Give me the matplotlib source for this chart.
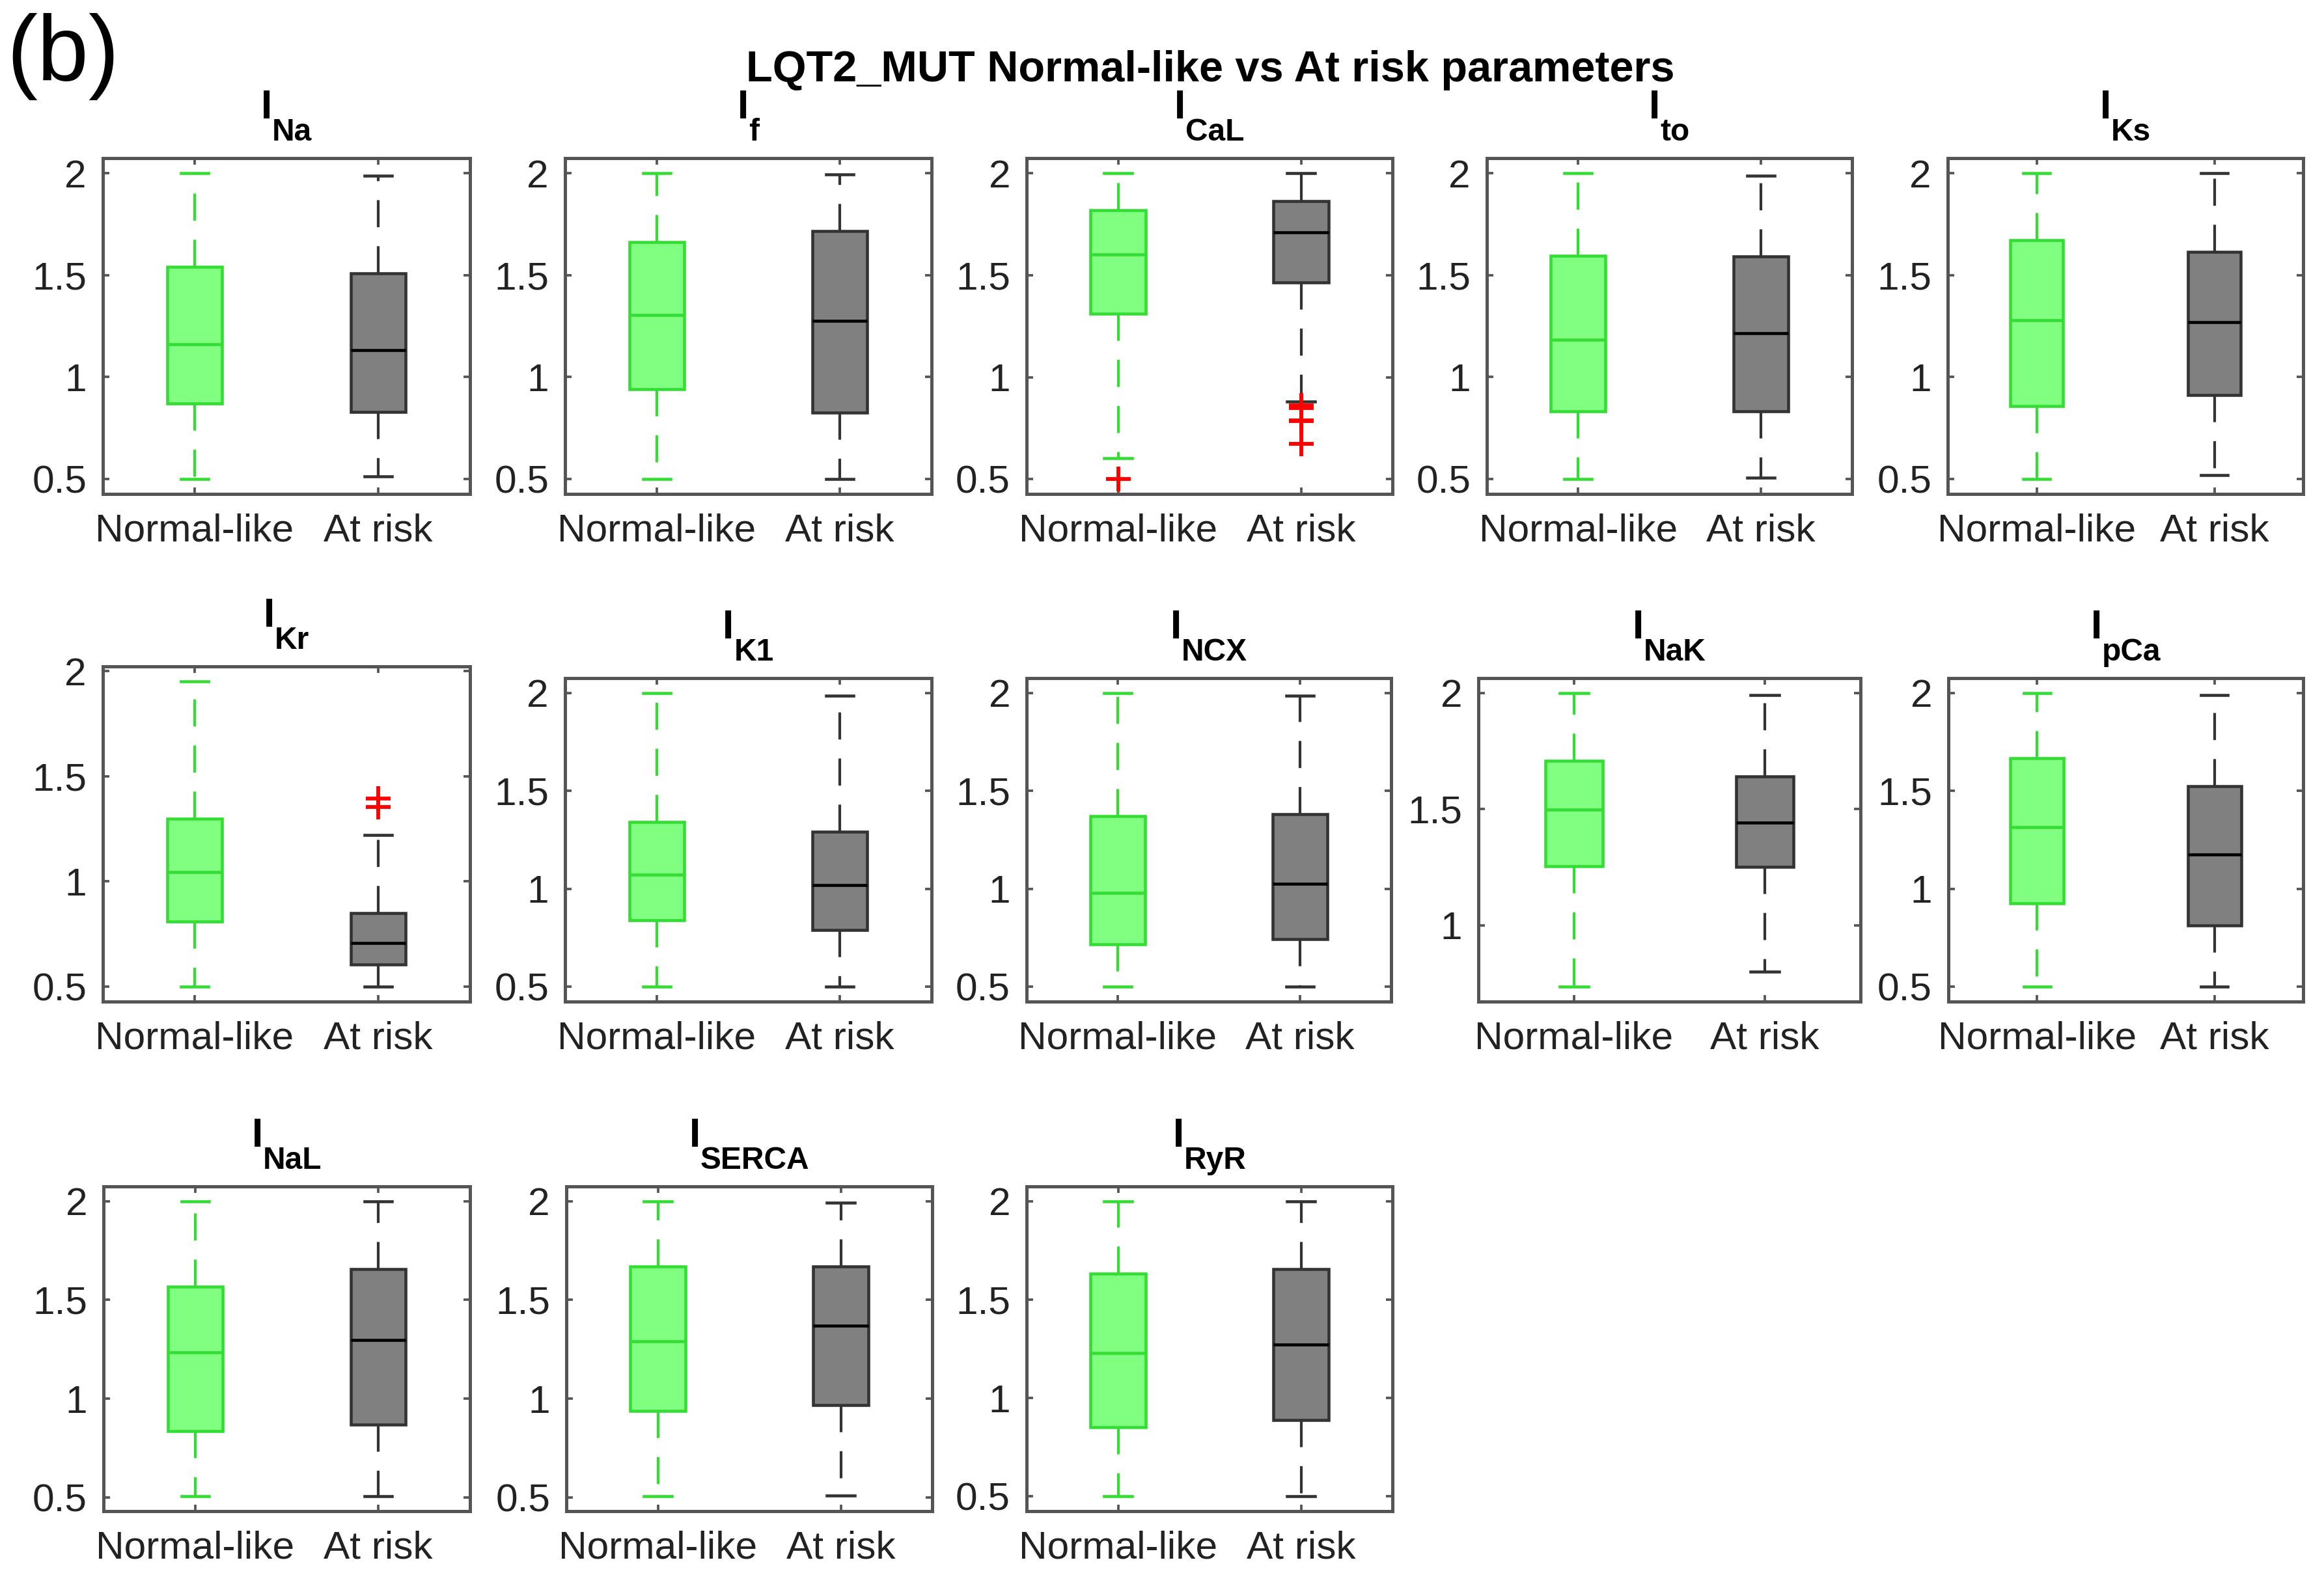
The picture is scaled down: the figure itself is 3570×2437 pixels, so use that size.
import matplotlib
matplotlib.use('Agg')
import matplotlib.pyplot as plt
from matplotlib.transforms import offset_copy

plt.rcParams['font.family'] = ['Liberation Sans', 'DejaVu Sans']

# subscripts of the current names, panel order left->right, top->bottom
currents = ['Na', 'f', 'CaL', 'to', 'Ks', 'Kr', 'K1', 'NCX', 'NaK', 'pCa', 'NaL', 'SERCA', 'RyR']
groups = ['Normal-like', 'At risk']
yticks = [0.5, 1, 1.5, 2]
ytick_labels = ['0.5', '1', '1.5', '2']

# Normal-like: lower whisker, q1, median, q3, upper whisker, outliers
nl_lo = [0.50, 0.50, 0.605, 0.50, 0.50, 0.50, 0.50, 0.50, 0.735, 0.50, 0.505, 0.505, 0.50]
nl_q1 = [0.87, 0.94, 1.312, 0.831, 0.857, 0.809, 0.841, 0.716, 1.254, 0.926, 0.836, 0.937, 0.85]
nl_med = [1.16, 1.305, 1.604, 1.183, 1.28, 1.043, 1.072, 0.978, 1.499, 1.315, 1.235, 1.289, 1.227]
nl_q3 = [1.54, 1.664, 1.819, 1.594, 1.673, 1.298, 1.342, 1.371, 1.709, 1.665, 1.566, 1.67, 1.633]
nl_hi = [2.00, 2.00, 2.00, 2.00, 2.00, 1.95, 2.00, 2.00, 2.00, 2.00, 2.00, 2.00, 2.00]
nl_out = [[], [], [0.503], [], [], [], [], [], [], [], [], [], []]

# At risk
ar_lo = [0.51, 0.50, 0.88, 0.505, 0.517, 0.50, 0.50, 0.50, 0.80, 0.50, 0.505, 0.51, 0.50]
ar_q1 = [0.829, 0.824, 1.465, 0.831, 0.91, 0.603, 0.79, 0.743, 1.251, 0.814, 0.867, 0.968, 0.889]
ar_med = [1.132, 1.274, 1.71, 1.216, 1.269, 0.705, 1.018, 1.026, 1.442, 1.175, 1.297, 1.368, 1.271]
ar_q3 = [1.508, 1.716, 1.865, 1.591, 1.616, 0.85, 1.291, 1.382, 1.64, 1.525, 1.656, 1.671, 1.654]
ar_hi = [1.99, 1.995, 2.00, 1.99, 2.00, 1.221, 1.986, 1.986, 1.99, 1.99, 2.00, 1.993, 2.00]
ar_out = [[], [], [0.862, 0.85, 0.79, 0.785, 0.675], [], [], [1.395, 1.355], [], [], [], [], [], [], []]

# axes boxes in pixels of the 3570 x 2437 image: left, top, right, bottom
W, H = 3570, 2437
boxes = [
    (158, 243, 722, 759), (868, 243, 1431, 759), (1577, 243, 2139, 759),
    (2284, 243, 2845, 759), (2992, 243, 3538, 759),
    (158, 1024, 722, 1539), (868, 1042, 1431, 1539), (1577, 1042, 2137, 1539),
    (2271, 1042, 2858, 1539), (2993, 1042, 3538, 1539),
    (159, 1823, 722, 2322), (870, 1823, 1432, 2322), (1577, 1823, 2139, 2322),
]

green_fill = '#80ff80'
green_line = '#33dd33'
gray_fill = '#808080'
gray_line = '#333333'
spine_col = '#555555'

fig = plt.figure(figsize=(W / 300, H / 300), dpi=300)

titles = []
for i, name in enumerate(currents):
    x0, y0, x1, y1 = boxes[i]
    ax = fig.add_axes([x0 / W, 1 - y1 / H, (x1 - x0) / W, (y1 - y0) / H])

    sets = [
        (1, nl_lo, nl_q1, nl_med, nl_q3, nl_hi, nl_out, green_fill, green_line, green_line),
        (2, ar_lo, ar_q1, ar_med, ar_q3, ar_hi, ar_out, gray_fill, gray_line, 'black'),
    ]
    for pos, lo, q1, med, q3, hi, out, fc, ec, mc in sets:
        st = dict(whislo=lo[i], q1=q1[i], med=med[i], q3=q3[i], whishi=hi[i], fliers=out[i])
        ax.bxp([st], positions=[pos], widths=0.3, capwidths=0.15, patch_artist=True,
               showfliers=True,
               boxprops=dict(facecolor=fc, edgecolor=ec, linewidth=1.1),
               whiskerprops=dict(color=ec, linestyle=(0, (10, 7)), linewidth=1.0),
               capprops=dict(color=ec, linewidth=1.1),
               medianprops=dict(color=mc, linewidth=1.1),
               flierprops=dict(marker='+', markeredgecolor='red', markersize=9,
                               markeredgewidth=1.4, linestyle='none'))

    ax.set_xticks([1, 2])
    ax.set_xticklabels(groups)
    ax.set_yticks(yticks)
    ax.set_yticklabels(ytick_labels)
    # y range like MATLAB boxplot: data range plus 5 % each side
    vals = [nl_lo[i], nl_hi[i], ar_lo[i], ar_hi[i]] + nl_out[i] + ar_out[i]
    lo_v, hi_v = min(vals), max(vals)
    pad = 0.05 * (hi_v - lo_v)
    ax.set_ylim(lo_v - pad, hi_v + pad)
    ax.set_xlim(0.5, 2.5)
    ax.tick_params(direction='in', length=2.5, width=0.9, top=True, right=True,
                   color=spine_col, labelcolor='#222222', labelsize=14.5)
    ax.tick_params(axis='x', pad=7)
    ax.tick_params(axis='y', pad=6)
    for s in ax.spines.values():
        s.set_color(spine_col)
        s.set_linewidth(1.2)

    t1 = ax.text(0.5, 1.0, 'I', transform=offset_copy(ax.transAxes, fig=fig, y=14.6, units='points'),
                 fontsize=15, fontweight='bold', ha='left', va='baseline')
    t2 = ax.text(0.5, 1.0, name, transform=offset_copy(ax.transAxes, fig=fig, y=6.5, units='points'),
                 fontsize=11.5, fontweight='bold', ha='left', va='baseline')
    titles.append((ax, t1, t2))

fig.text(1859 / W, 1 - 125 / H, 'LQT2_MUT Normal-like vs At risk parameters',
         fontsize=16, fontweight='bold', ha='center', va='baseline')
fig.text(10 / W, 1 - 20 / H, '(b)', fontsize=34, ha='left', va='top')

# centre "I" + subscript together above each panel
fig.canvas.draw()
r = fig.canvas.get_renderer()
for ax, t1, t2 in titles:
    aw = ax.bbox.width
    w1 = t1.get_window_extent(r).width / aw
    w2 = t2.get_window_extent(r).width / aw
    x0 = 0.5 - (w1 + w2) / 2
    t1.set_x(x0)
    t2.set_x(x0 + w1)

fig.savefig('out.png', dpi=300)
